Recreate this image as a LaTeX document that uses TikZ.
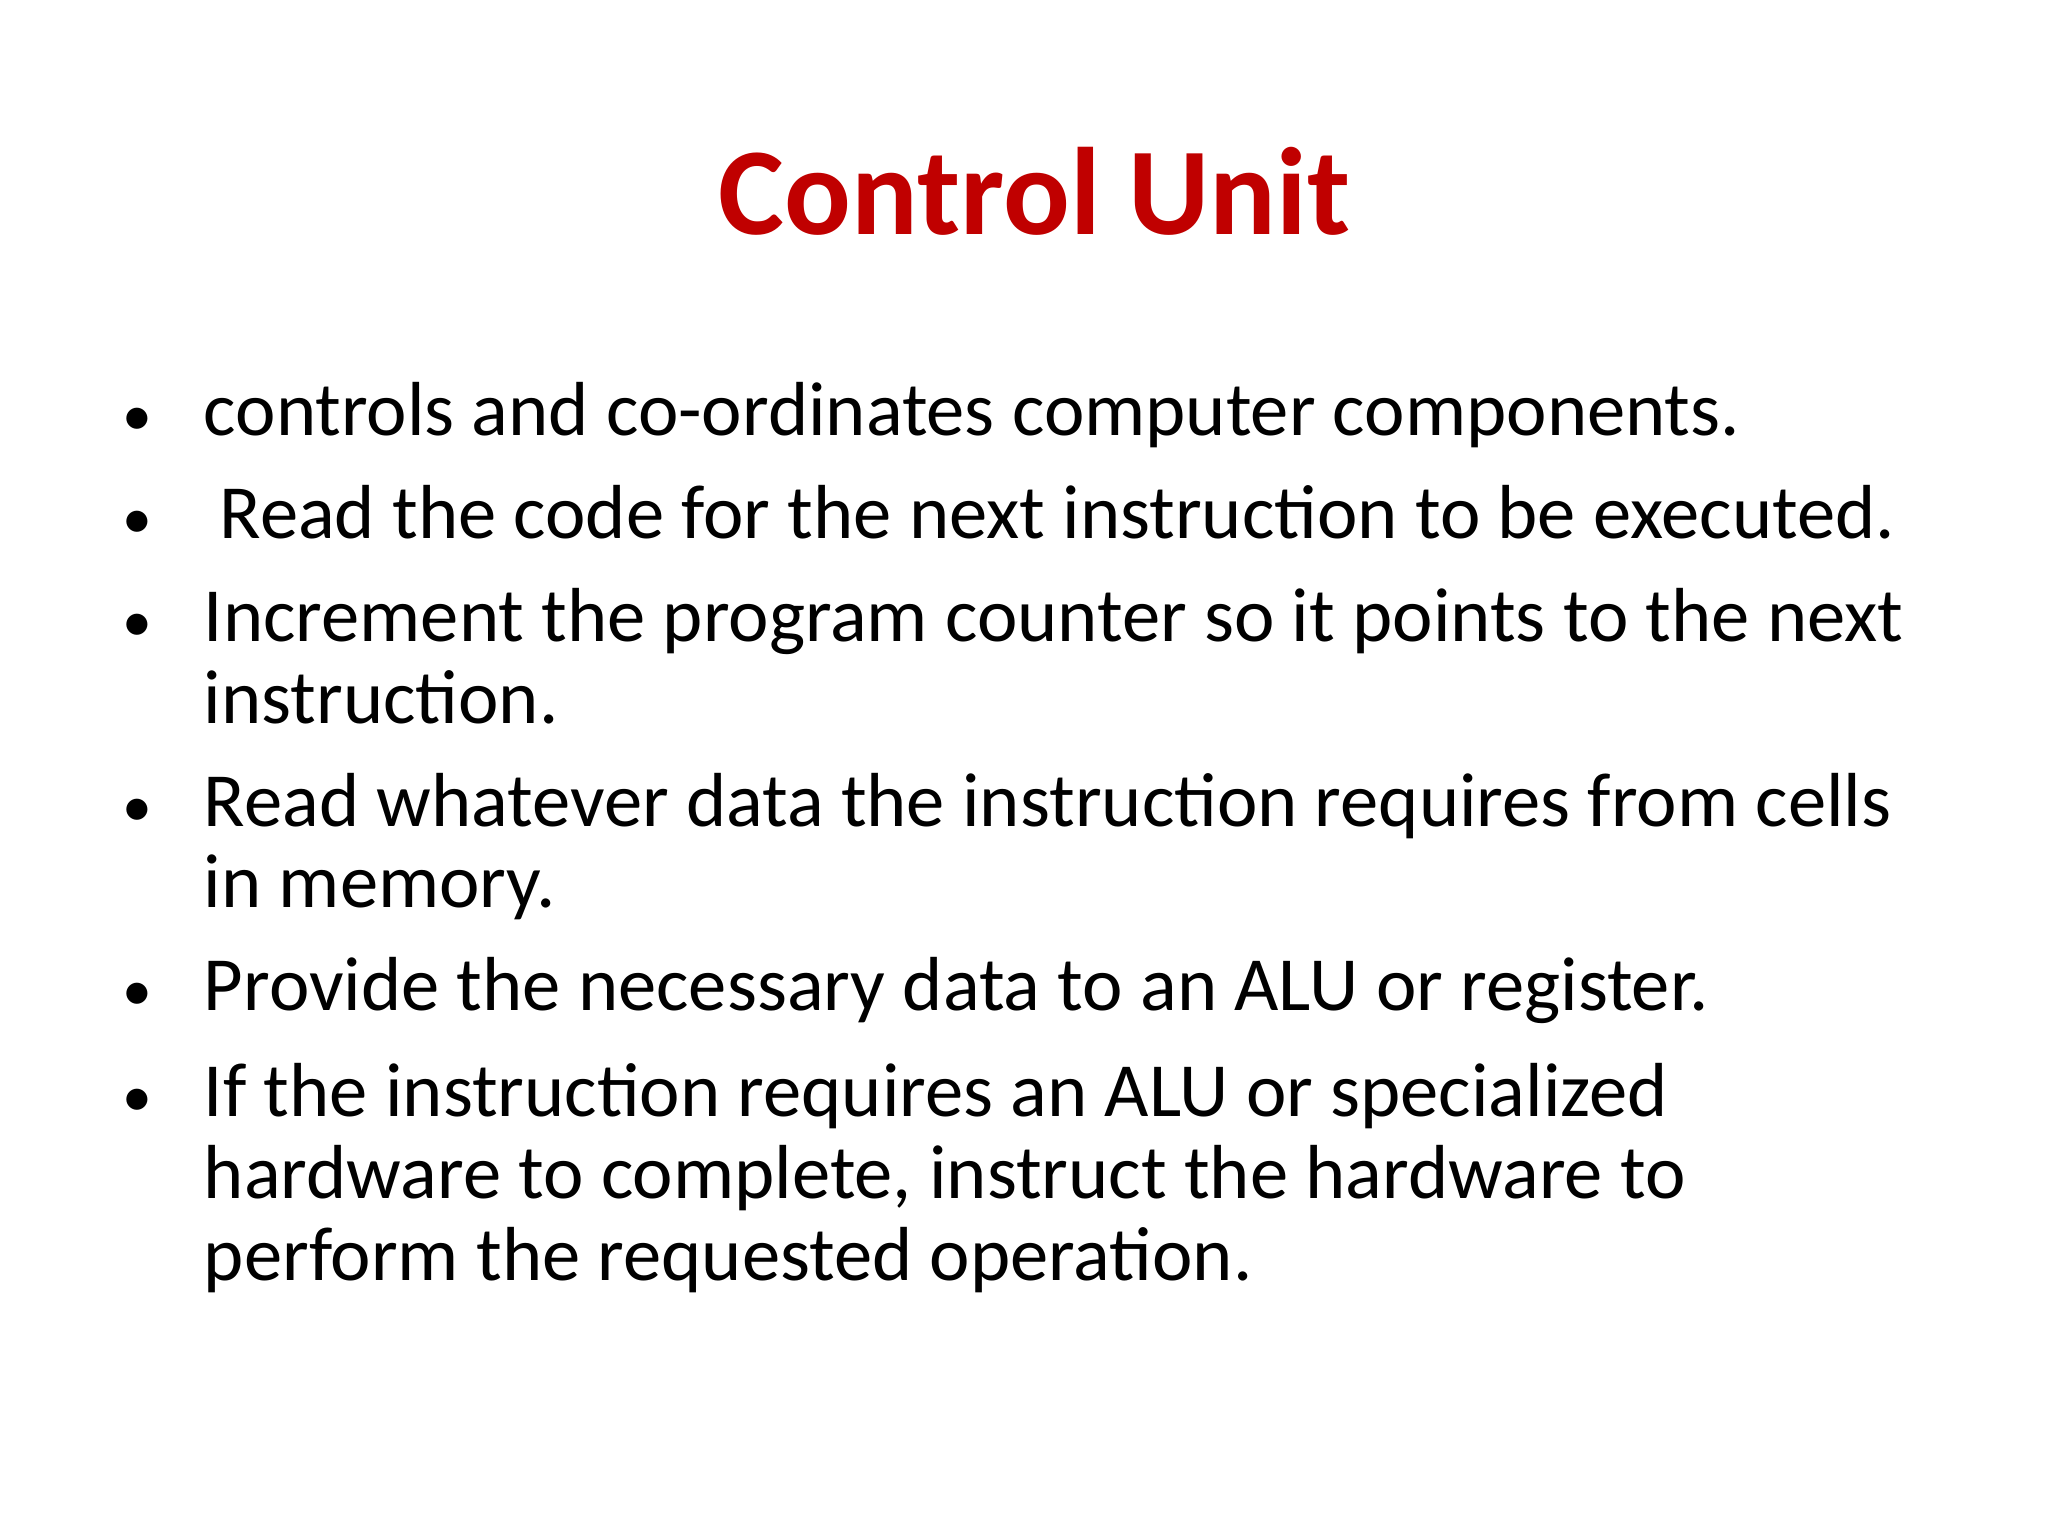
\documentclass[tikz,border=0pt]{standalone}
\usepackage{fontspec}
\setmainfont{Carlito}
\definecolor{titlered}{HTML}{C00000}
\begin{document}
\begin{tikzpicture}[x=0.013196cm,y=-0.013196cm,
  txt/.style={anchor=base west,inner sep=0pt,font=\fontsize{21.8}{26}\selectfont},
  bul/.style={anchor=base,inner sep=0pt,font=\fontsize{17}{20}\selectfont}]
\useasboundingbox[fill=white] (0,0) rectangle (1552,1164);
\node[anchor=base,inner sep=0pt,text=titlered,font=\fontsize{35.4}{42}\selectfont\bfseries] (title) at (784,178) {Control Unit};
\foreach \y [count=\i] in {330,408,486,626,766,846}
  \node[bul] (b\i) at (104,\y) {•};
\node[txt] (l1) at (154,330) {controls and co-ordinates computer components.};
\node[txt] (l2) at (166,408) {Read the code for the next instruction to be executed.};
\node[txt] (l3) at (154,486) {Increment the program counter so it points to the next};
\node[txt] (l3b) at (154,548) {instruction.};
\node[txt] (l4) at (154,626) {Read whatever data the instruction requires from cells};
\node[txt] (l4b) at (154,688) {in memory.};
\node[txt] (l5) at (154,766) {Provide the necessary data to an ALU or register.};
\node[txt] (l6) at (154,846) {If the instruction requires an ALU or specialized};
\node[txt] (l6b) at (154,908) {hardware to complete, instruct the hardware to};
\node[txt] (l6c) at (154,970) {perform the requested operation.};
\end{tikzpicture}
\end{document}
